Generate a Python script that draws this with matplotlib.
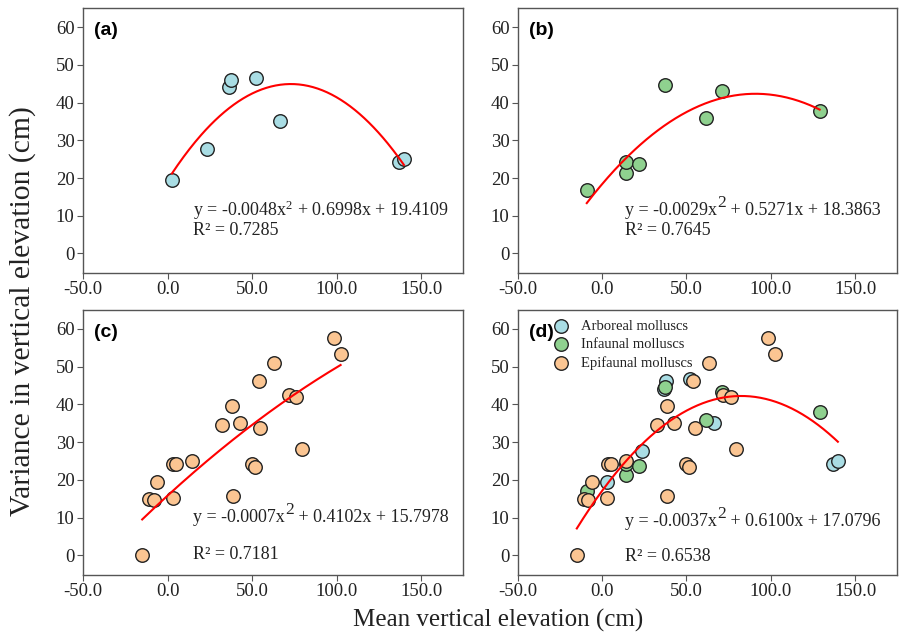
import numpy as np
import matplotlib
matplotlib.use('Agg')
import matplotlib.pyplot as plt

plt.rcParams['font.family'] = ['Liberation Serif', 'DejaVu Serif']
plt.rcParams['mathtext.fontset'] = 'custom'
plt.rcParams['mathtext.rm'] = 'Liberation Serif'
plt.rcParams['mathtext.it'] = 'Liberation Serif:italic'

# arboreal molluscs (a)
arb_x = [2.6, 23.4, 36.5, 37.6, 52.2, 66.4, 136.7, 139.7]
arb_y = [19.4, 27.6, 44.1, 46.1, 46.6, 35.1, 24.3, 25.1]

# infaunal molluscs (b)
inf_x = [-9.1, 14.2, 14.2, 22.1, 37.1, 61.6, 71.3, 128.9]
inf_y = [16.9, 21.4, 24.3, 23.7, 44.7, 35.9, 43.2, 37.9]

# epifaunal molluscs (c)
epi_x = [-15.0, -11.0, -8.1, -6.1, 3.0, 3.2, 5.1, 14.2, 32.3, 38.2, 38.6,
         42.6, 50.0, 51.6, 54.0, 54.8, 63.1, 71.7, 76.1, 79.2, 98.5, 102.3]
epi_y = [0.0, 15.0, 14.7, 19.3, 15.2, 24.3, 24.3, 24.9, 34.5, 39.5, 15.6,
         35.0, 24.2, 23.3, 46.2, 33.6, 50.9, 42.4, 42.0, 28.1, 57.5, 53.3]

# quadratic fits as printed on the panels (a2, a1, a0)
fit_a = [-0.0048, 0.6998, 19.4109]
fit_b = [-0.0029, 0.5271, 18.3863]
fit_c = [-0.0007, 0.4102, 15.7978]
fit_d = [-0.0037, 0.6100, 17.0796]
r2 = ['0.7285', '0.7645', '0.7181', '0.6538']

col_arb = '#a9dde4'
col_inf = '#8fd18f'
col_epi = '#fbc592'
ink = '#222222'

fig = plt.figure(figsize=(9.02, 6.38), dpi=100)
ax_a = fig.add_axes([0.092, 0.572, 0.421, 0.415])
ax_b = fig.add_axes([0.574, 0.572, 0.420, 0.415])
ax_c = fig.add_axes([0.092, 0.099, 0.421, 0.415])
ax_d = fig.add_axes([0.574, 0.099, 0.420, 0.415])

def style(ax, label):
    ax.set_xlim(-50, 174.5)
    ax.set_ylim(-5.2, 65)
    ax.set_xticks([-50, 0, 50, 100, 150])
    ax.set_xticklabels(['%.1f' % t for t in [-50, 0, 50, 100, 150]])
    ax.set_yticks(range(0, 61, 10))
    ax.tick_params(labelsize=13.5, direction='out', length=4, color='#555555',
                   labelcolor=ink, pad=2)
    for s in ax.spines.values():
        s.set_color('#555555')
        s.set_linewidth(1.0)
    ax.text(0.03, 0.915, label, transform=ax.transAxes, fontsize=14,
            fontweight='bold', family='Liberation Sans', va='center')

def curve(ax, coef, xs):
    xx = np.linspace(min(xs), max(xs), 200)
    ax.plot(xx, np.polyval(coef, xx), color='red', lw=1.5, zorder=3)

def eq_small(ax, x, y, coef):
    s = 'y = %.4fx$^{2}$ + %.4fx + %.4f' % (coef[0], coef[1], coef[2])
    ax.text(x, y, s, fontsize=13, va='center', color=ink)

def eq_big(ax, x, y, coef):
    # equation with a large raised "2", built from three pieces
    t1 = ax.text(x, y, 'y = %.4fx' % coef[0], fontsize=13, va='center', color=ink)
    t2 = ax.annotate('2', xy=(1.0, 0.0), xycoords=t1, xytext=(0.3, 5.5),
                     textcoords='offset points', fontsize=12.5,
                     va='bottom', ha='left', color=ink)
    ax.annotate(' + %.4fx + %.4f' % (coef[1], coef[2]), xy=(1.0, 0.0),
                xycoords=(t2, t1), fontsize=13, va='bottom', ha='left', color=ink)

mk = dict(s=95, edgecolors=ink, linewidths=1.0, zorder=2)

# (a)
style(ax_a, '(a)')
ax_a.scatter(arb_x, arb_y, c=col_arb, **mk)
curve(ax_a, fit_a, arb_x)
eq_small(ax_a, 14.9, 11.5, fit_a)
ax_a.text(14.9, 6.2, 'R² = ' + r2[0], fontsize=13, va='center', color=ink)

# (b)
style(ax_b, '(b)')
ax_b.scatter(inf_x, inf_y, c=col_inf, **mk)
curve(ax_b, fit_b, inf_x)
eq_big(ax_b, 13.4, 11.5, fit_b)
ax_b.text(13.4, 6.1, 'R² = ' + r2[1], fontsize=13, va='center', color=ink)

# (c)
style(ax_c, '(c)')
ax_c.scatter(epi_x, epi_y, c=col_epi, **mk)
curve(ax_c, fit_c, epi_x)
eq_big(ax_c, 14.9, 10.0, fit_c)
ax_c.text(14.9, 0.3, 'R² = ' + r2[2], fontsize=13, va='center', color=ink)

# (d) all groups together
style(ax_d, '(d)')
ax_d.scatter(arb_x, arb_y, c=col_arb, label='Arboreal molluscs', **mk)
ax_d.scatter(inf_x, inf_y, c=col_inf, label='Infaunal molluscs', **mk)
ax_d.scatter(epi_x, epi_y, c=col_epi, label='Epifaunal molluscs', **mk)
curve(ax_d, fit_d, arb_x + inf_x + epi_x)
eq_big(ax_d, 13.4, 9.0, fit_d)
ax_d.text(13.4, -0.3, 'R² = ' + r2[3], fontsize=13, va='center', color=ink)
ax_d.legend(loc='upper left', bbox_to_anchor=(0.065, 0.998), frameon=False,
            fontsize=10.5, handlelength=1.3, handletextpad=0.75,
            labelspacing=0.35, borderaxespad=0.2, labelcolor=ink)

fig.text(0.0255, 0.513, 'Variance in vertical elevation (cm)', rotation=90,
         fontsize=21.3, va='center', ha='center', color=ink)
fig.text(0.552, 0.027, 'Mean vertical elevation (cm)', fontsize=18,
         va='center', ha='center', color=ink)

fig.savefig('out.png', dpi=100)
